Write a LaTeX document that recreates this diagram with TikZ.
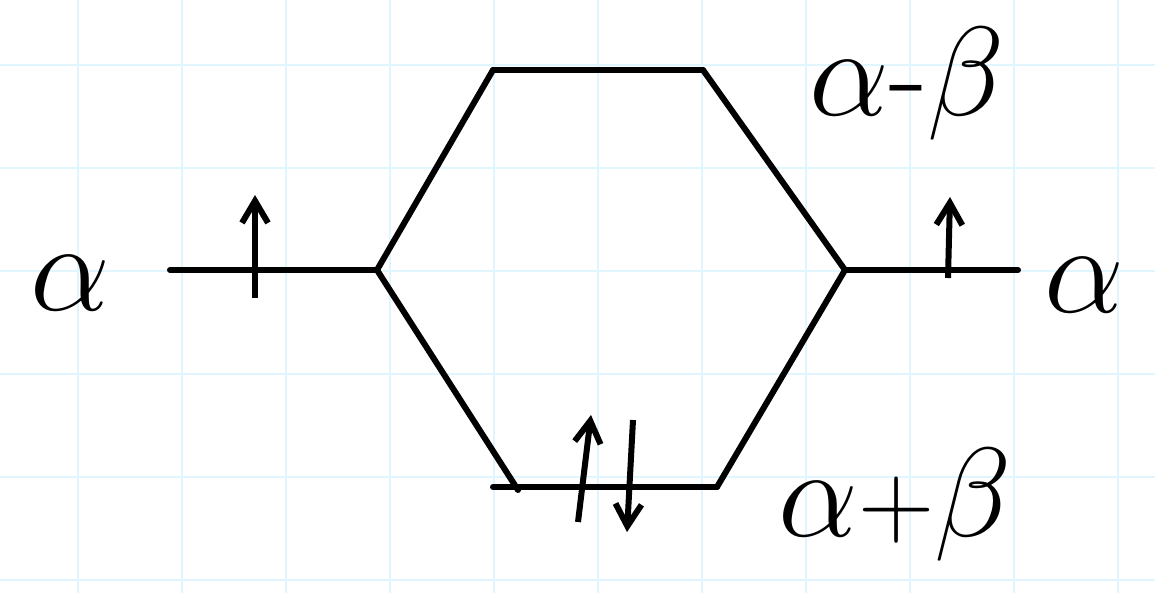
\documentclass[tikz,border=0pt]{standalone}
\usepackage{amsmath,amssymb}
\usetikzlibrary{arrows.meta,positioning}

\newcommand{\eglabel}[1]{\scalebox{2.55}{\Huge #1}}

\begin{document}
\begin{tikzpicture}[x=0.5pt, y=-0.5pt,
    level/.style={line width=3pt, line cap=round, line join=round},
    spin/.style={line width=3pt, -{Straight Barb[length=11pt, width=13pt, line width=3pt]}},
    energy/.style={inner sep=0pt}]
  \useasboundingbox (0,0) rectangle (1155,593);

  % Papier quadrille
  \foreach \gx in {78,182,...,1130} \draw[cyan!12, line width=0.8pt] (\gx,0) -- (\gx,593);
  \foreach \gy in {65,168,...,593} \draw[cyan!12, line width=0.8pt] (0,\gy) -- (1155,\gy);

  % Niveaux
  \coordinate (aL1) at (170,270); \coordinate (aL2) at (377,270);
  \coordinate (aR1) at (845,270); \coordinate (aR2) at (1018,270);
  \coordinate (ab1) at (493,70);  \coordinate (ab2) at (703,70);
  \coordinate (bd1) at (493,487); \coordinate (bd2) at (717,487);
  \coordinate (bdk) at (518,490);

  \draw[level] (aL1) -- (aL2);
  \draw[level] (aR1) -- (aR2);
  \draw[level] (ab1) -- (ab2);
  \draw[level] (bd1) -- (bd2);

  % Correlations
  \draw[level] (aL2) -- (ab1);
  \draw[level] (aL2) -- (bdk);
  \draw[level] (ab2) -- (aR1);
  \draw[level] (bd2) -- (aR1);

  % Electrons
  \draw[spin] (255,298) -- (255,195);
  \draw[spin] (948,278) -- (950,197);
  \draw[spin] (578,522) -- (591,415);
  \draw[spin] (633,420) -- (627,532);

  % Energies
  \node[energy] (lL) at (70,283) {\eglabel{$\alpha$}};
  \node[energy] (lR) at (1084,285) {\eglabel{$\alpha$}};
  \node[energy] (lT) at (907,84) {\eglabel{$\alpha$-$\beta$}};
  \node[energy] (lB) at (895,505) {\eglabel{$\alpha{\scriptstyle+}\beta$}};
\end{tikzpicture}
\end{document}
